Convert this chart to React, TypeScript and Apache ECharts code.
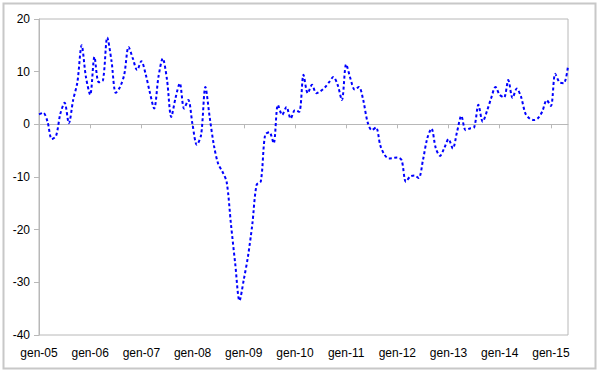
import React, { useEffect, useRef } from "react";
import * as echarts from "echarts";

const monthNames = ["gen", "feb", "mar", "apr", "mag", "giu", "lug", "ago", "set", "ott", "nov", "dic"];
const startYear = 2005;
const values: number[] = [
  1.9, 2.2, 0.5, -2.8, -2.2, 2.0, 4.1, 0.2, 4.6, 8.0, 15.0, 9.0,
  5.6, 12.8, 8.0, 8.4, 16.5, 12.0, 6.0, 7.1, 9.5, 14.7, 12.5, 10.3,
  12.0, 9.5, 6.0, 3.0, 9.0, 12.5, 8.5, 1.4, 5.0, 7.8, 3.0, 4.6,
  -0.1, -3.9, -2.0, 7.1, 1.4, -4.0, -7.5, -9.0, -11.0, -19.0, -26.5, -33.5,
  -29.5, -25.0, -19.0, -11.5, -10.8, -2.0, -1.5, -3.6, 3.7, 1.8, 3.3, 1.1,
  2.7, 2.4, 9.4, 5.9, 7.5, 5.9, 6.3, 7.0, 8.0, 9.0, 7.5, 4.6,
  11.4, 8.7, 6.6, 7.1, 4.6, 0.5, -1.1, -0.6, -4.0, -5.8, -6.5, -6.4,
  -6.3, -6.8, -10.9, -9.9, -9.7, -10.2, -6.8, -2.7, -0.8, -4.5, -6.0, -4.5,
  -2.8, -4.6, -1.4, 1.6, -1.1, -0.8, -0.6, 3.7, 0.5, 2.5, 5.0, 7.1,
  5.6, 5.1, 8.4, 5.0, 6.8, 5.2, 2.1, 1.1, 0.8, 1.2, 2.5, 4.6,
  3.5, 9.6, 8.0, 7.8, 11.0,
];
const categories: string[] = values.map((_, i) => {
  const y = startYear + Math.floor(i / 12);
  return `${monthNames[i % 12]}-${String(y % 100).padStart(2, "0")}`;
});
const yMin = -40;
const yMax = 20;
const yStep = 10;

export default function App() {
  const ref = useRef<HTMLDivElement>(null);
  useEffect(() => {
    document.body.style.margin = "0";
    if (!ref.current) return;
    const chart = echarts.init(ref.current, undefined, { renderer: "svg" });
    const yearly = (i: number) => i % 12 === 0;
    chart.setOption({
      animation: false,
      backgroundColor: "#ffffff",
      graphic: [
        {
          type: "rect",
          shape: { x: 3.5, y: 3.5, width: 592, height: 365 },
          style: { fill: "none", stroke: "#c8c8c8", lineWidth: 2 },
          silent: true,
        },
      ],
      grid: {
        left: 39,
        right: 32,
        top: 19,
        bottom: 37,
        show: true,
        borderColor: "#b8b8b8",
        borderWidth: 1,
        backgroundColor: "transparent",
      },
      xAxis: [
        {
          type: "category",
          data: categories,
          boundaryGap: false,
          position: "bottom",
          axisLine: { show: false, onZero: false },
          axisTick: { show: false },
          splitLine: { show: false },
          axisLabel: {
            interval: (i: number) => yearly(i),
            margin: 12,
            color: "#000000",
            fontFamily: "Liberation Sans, Arial, sans-serif",
            fontSize: 12,
          },
        },
        {
          type: "category",
          data: categories,
          boundaryGap: false,
          position: "top",
          axisLine: { show: true, onZero: true, lineStyle: { color: "#b8b8b8", width: 1 } },
          axisTick: {
            show: true,
            inside: true,
            length: 4,
            interval: (i: number) => yearly(i),
            lineStyle: { color: "#b8b8b8" },
          },
          axisLabel: { show: false },
          splitLine: { show: false },
        },
      ],
      yAxis: {
        type: "value",
        min: yMin,
        max: yMax,
        interval: yStep,
        axisLine: { show: true, lineStyle: { color: "#b8b8b8" } },
        axisTick: { show: true, length: 5, lineStyle: { color: "#b8b8b8" } },
        splitLine: { show: false },
        axisLabel: {
          margin: 9,
          color: "#000000",
          fontFamily: "Liberation Sans, Arial, sans-serif",
          fontSize: 12,
        },
      },
      series: [
        {
          type: "line",
          xAxisIndex: 0,
          data: values,
          smooth: 0.3,
          showSymbol: false,
          symbol: "none",
          lineStyle: { color: "#0000ff", width: 2, type: [3, 2.5] },
        },
      ],
    });
    return () => chart.dispose();
  }, []);
  return <div ref={ref} style={{ width: 600, height: 372 }} />;
}
